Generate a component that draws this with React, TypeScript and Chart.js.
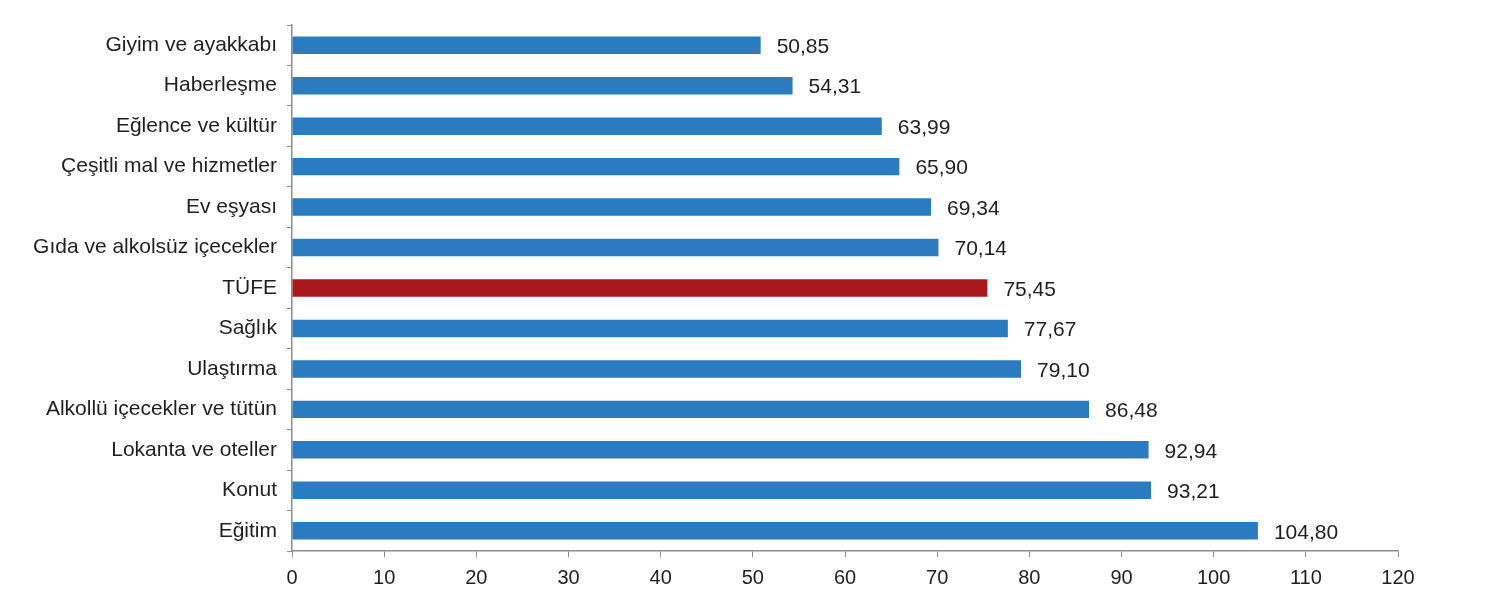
import React, { useEffect, useRef } from "react";
import { Chart, registerables } from "chart.js";

Chart.register(...registerables);

const categories = [
  "Giyim ve ayakkabı",
  "Haberleşme",
  "Eğlence ve kültür",
  "Çeşitli mal ve hizmetler",
  "Ev eşyası",
  "Gıda ve alkolsüz içecekler",
  "TÜFE",
  "Sağlık",
  "Ulaştırma",
  "Alkollü içecekler ve tütün",
  "Lokanta ve oteller",
  "Konut",
  "Eğitim",
];

const values = [50.85, 54.31, 63.99, 65.9, 69.34, 70.14, 75.45, 77.67, 79.1, 86.48, 92.94, 93.21, 104.8];

const highlight = "TÜFE";
const blue = "#2a7bc0";
const red = "#a8181c";
const FONT = "'Liberation Sans', Arial, sans-serif";
const FS = 20;
const FS_LABEL = 21;

const valueLabels = {
  id: "valueLabels",
  afterDatasetsDraw(chart: any) {
    const ctx = chart.ctx;
    const meta = chart.getDatasetMeta(0);
    ctx.save();
    ctx.font = `${FS_LABEL}px ${FONT}`;
    ctx.fillStyle = "#1e1e1e";
    ctx.textAlign = "left";
    ctx.textBaseline = "middle";
    meta.data.forEach((bar: any, i: number) => {
      const txt = values[i].toFixed(2).replace(".", ",");
      ctx.fillText(txt, bar.x + 16, bar.y + 2);
    });
    ctx.restore();
  },
};

export default function App() {
  const ref = useRef<HTMLCanvasElement>(null);
  useEffect(() => {
    document.body.style.margin = "0";
    const chart = new Chart(ref.current!, {
      type: "bar",
      data: {
        labels: categories,
        datasets: [
          {
            data: values,
            backgroundColor: categories.map((c) => (c === highlight ? red : blue)),
            barPercentage: 0.9,
            categoryPercentage: 0.48,
          },
        ],
      },
      options: {
        indexAxis: "y",
        animation: false,
        responsive: false,
        layout: { padding: { left: 0, right: 102, top: 25, bottom: 0 } },
        plugins: { legend: { display: false }, tooltip: { enabled: false } },
        scales: {
          x: {
            min: 0,
            max: 120,
            ticks: { stepSize: 10, color: "#1e1e1e", font: { family: FONT, size: FS }, padding: 9 },
            grid: { drawOnChartArea: false, tickLength: 6, color: "#8c8c8c" },
            border: { display: true, color: "#8c8c8c", width: 1.5 },
            afterFit: (s: any) => {
              s.height = 55;
            },
          },
          y: {
            offset: true,
            ticks: { color: "#1e1e1e", font: { family: FONT, size: FS_LABEL }, padding: 10 },
            grid: { drawOnChartArea: false, offset: true, tickLength: 5, color: "#8c8c8c" },
            border: { display: true, color: "#8c8c8c", width: 1.5 },
            afterFit: (s: any) => {
              s.width = 292;
            },
          },
        },
      },
      plugins: [valueLabels],
    });
    return () => chart.destroy();
  }, []);
  return (
    <div style={{ width: 1500, height: 606 }}>
      <canvas ref={ref} width={1500} height={606} style={{ display: "block" }} />
    </div>
  );
}
